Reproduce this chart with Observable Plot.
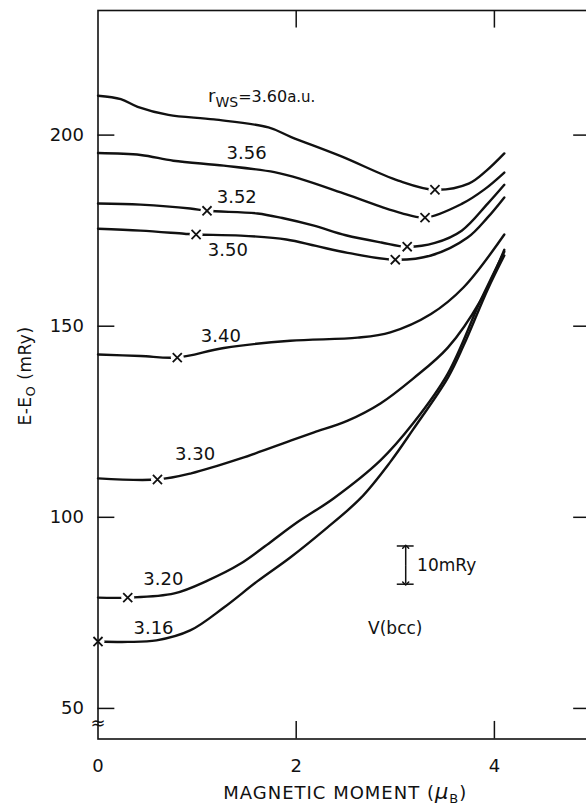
<!DOCTYPE html>
<html><head><meta charset="utf-8">
<script src="https://cdn.jsdelivr.net/npm/d3@7"></script>
<script src="https://cdn.jsdelivr.net/npm/@observablehq/plot@0.6"></script>
<style>
html,body{margin:0;padding:0;background:#fff;overflow:hidden;}
#chart svg{overflow:hidden;display:block;}
</style></head><body><div id="chart"></div>
<script>
// Wigner-Seitz radii (a.u.) of the curves
const radii = ["3.60","3.56","3.52","3.50","3.40","3.30","3.20","3.16"];

// magnetic moment (μB) and E-E0 (mRy) per curve
const m360 = [0, 0.23, 0.40, 0.71, 1.17, 1.72, 1.95, 2.45, 3.03, 3.40, 3.74, 3.92, 4.10];
const e360 = [210.3, 209.4, 207.4, 205.3, 204.1, 202.0, 199.5, 194.5, 188.1, 185.7, 187.3, 190.7, 195.2];
const m356 = [0, 0.43, 0.76, 1.27, 1.78, 2.05, 2.45, 2.86, 3.06, 3.30, 3.67, 3.90, 4.10];
const e356 = [195.3, 194.8, 193.3, 192.0, 190.3, 188.5, 185.0, 181.2, 179.6, 178.4, 182.0, 185.8, 190.2];
const m352 = [0, 0.43, 0.93, 1.10, 1.61, 1.86, 2.18, 2.50, 2.86, 3.12, 3.40, 3.67, 3.93, 4.10];
const e352 = [182.1, 181.8, 180.8, 180.2, 179.5, 178.3, 176.3, 173.8, 171.9, 170.8, 171.8, 175.0, 182.0, 187.0];
const m350 = [0, 0.43, 0.87, 0.99, 1.44, 1.90, 2.20, 2.52, 3.00, 3.36, 3.73, 3.93, 4.10];
const e350 = [175.5, 175.0, 174.2, 174.0, 173.7, 172.7, 171.0, 169.2, 167.4, 168.5, 173.2, 178.4, 183.7];
const m340 = [0, 0.43, 0.80, 1.27, 1.94, 2.62, 2.95, 3.36, 3.69, 4.10];
const e340 = [142.6, 142.2, 141.8, 144.3, 146.2, 147.0, 148.4, 153.2, 160.2, 174.0];
const m330 = [0, 0.60, 0.94, 1.44, 1.95, 2.18, 2.52, 2.85, 3.18, 3.53, 3.86, 4.10];
const e330 = [110.2, 109.9, 111.5, 115.4, 120.1, 122.2, 125.3, 129.8, 136.3, 144.4, 156.7, 170.0];
const m320 = [0, 0.30, 0.77, 1.11, 1.44, 1.74, 2.00, 2.38, 2.85, 3.18, 3.53, 3.86, 4.10];
const e320 = [79.0, 79.0, 80.1, 83.5, 87.9, 93.5, 98.5, 105.0, 114.9, 124.6, 137.6, 156.7, 169.5];
const m316 = [0, 0.30, 0.59, 0.93, 1.27, 1.61, 1.94, 2.28, 2.65, 2.95, 3.18, 3.53, 3.69, 3.93, 4.10];
const e316 = [67.5, 67.4, 67.8, 70.4, 76.4, 83.3, 89.5, 96.6, 105.0, 114.5, 123.0, 136.5, 145.0, 159.5, 168.5];

// calculated equilibrium / minimum points (×)
const markM = [3.40, 3.30, 1.10, 3.12, 0.99, 3.00, 0.80, 0.60, 0.30, 0];
const markE = [185.7, 178.4, 180.2, 170.8, 174.0, 167.4, 141.8, 109.9, 79.0, 67.5];

// curve label positions and texts
const labelText = ["3.56", "3.52", "3.50", "3.40", "3.30", "3.20", "3.16"];
const labelM = [1.50, 1.40, 1.31, 1.24, 0.98, 0.66, 0.56];
const labelE = [195.2, 183.7, 169.8, 147.3, 116.4, 83.7, 70.9];

const xTicks = [0, 2, 4];
const yTicks = [50, 100, 150, 200];

// build table
const series = [[m360,e360],[m356,e356],[m352,e352],[m350,e350],[m340,e340],[m330,e330],[m320,e320],[m316,e316]];
const rows = [];
series.forEach(([ms, es], i) => ms.forEach((m, j) => rows.push({r: radii[i], m, E: es[j]})));
const marks = markM.map((m, i) => ({m, E: markE[i]}));
const labels = labelText.map((t, i) => ({t, m: labelM[i], E: labelE[i]}));

const ink = "#111";
const font = "DejaVu Sans, sans-serif";
const yMin = 42.0, yMax = 232.6;

const chart = Plot.plot({
  width: 586, height: 805,
  marginLeft: 97.5, marginRight: -7, marginTop: 10, marginBottom: 66.5,
  style: {fontFamily: font, background: "white", color: ink},
  x: {domain: [0, 5], axis: null},
  y: {domain: [yMin, yMax], axis: null},
  marks: [
    Plot.line(rows, {x: "m", y: "E", z: "r", curve: "catmull-rom", stroke: ink, strokeWidth: 2.4}),
    Plot.dot(marks, {x: "m", y: "E", r: 6.5, fill: "white", stroke: null}),
    Plot.frame({stroke: ink, strokeWidth: 1.6}),
    Plot.dot(marks, {x: "m", y: "E", symbol: "times", r: 4.2, stroke: ink, strokeWidth: 1.8}),
    // inward ticks
    Plot.ruleY(yTicks, {x1: 0, x2: 0.17, stroke: ink, strokeWidth: 1.5}),
    Plot.ruleY(yTicks, {x1: 4.80, x2: 5, stroke: ink, strokeWidth: 1.5}),
    Plot.ruleX(xTicks.filter(d => d > 0), {y1: yMin, y2: yMin + 4.6, stroke: ink, strokeWidth: 1.5}),
    Plot.ruleX(xTicks.filter(d => d > 0), {y1: yMax - 4.6, y2: yMax, stroke: ink, strokeWidth: 1.5}),
    Plot.axisX({ticks: xTicks, tickSize: 0, tickPadding: 20, fontSize: 18, label: null, tickFormat: d => d}),
    Plot.axisY({ticks: yTicks, tickSize: 0, tickPadding: 14, fontSize: 18, label: null, tickFormat: d => d, letterSpacing: 1}),
    // curve labels
    Plot.text(labels, {x: "m", y: "E", text: "t", fontSize: 18, fill: ink, letterSpacing: 0.5}),
    Plot.text(["V(bcc)"], {x: 3.00, y: 70.9, text: d => d, fontSize: 17, fill: ink}),
    // 10 mRy scale bar
    Plot.ruleY([82.5, 92.5], {x1: 3.02, x2: 3.19, stroke: ink, strokeWidth: 1.5}),
    Plot.link([{a: 87.5, b: 92.3}, {a: 87.5, b: 82.7}], {x1: 3.105, x2: 3.105, y1: "a", y2: "b", stroke: ink, strokeWidth: 1.5, markerEnd: "arrow"}),
    Plot.text(["10mRy"], {x: 3.22, y: 87.5, text: d => d, textAnchor: "start", fontSize: 17, fill: ink}),
    // axis break sign
    Plot.text(["≈"], {x: 0, y: 46.2, text: d => d, fontSize: 18, fill: ink})
  ]
});
document.getElementById("chart").appendChild(chart);

const svg = d3.select(chart);
const sx = chart.scale("x"), sy = chart.scale("y");

// r_WS label
const t1 = svg.append("text").attr("x", sx.apply(1.115)).attr("y", sy.apply(208.5))
  .attr("text-anchor", "start").attr("font-family", font).attr("fill", ink).attr("font-size", 17);
t1.append("tspan").attr("font-size", 18).text("r");
t1.append("tspan").attr("dy", 5).attr("font-size", 14).text("WS");
t1.append("tspan").attr("dy", -5).attr("font-size", 16).text("=3.60");
t1.append("tspan").attr("font-size", 15).text("a.u.");

// x axis title
const xt = svg.append("text").attr("x", sx.apply(2.5)).attr("y", 799)
  .attr("text-anchor", "middle").attr("font-family", font).attr("fill", ink).attr("font-size", 18)
  .attr("letter-spacing", 1);
xt.append("tspan").text("MAGNETIC MOMENT (");
xt.append("tspan").attr("font-style", "italic").attr("font-size", 21).text("μ");
xt.append("tspan").attr("dy", 4).attr("font-size", 13).text("B");
xt.append("tspan").attr("dy", -4).text(")");

// y axis title
const yt = svg.append("text").attr("transform", "translate(31,376) rotate(-90)")
  .attr("text-anchor", "middle").attr("font-family", font).attr("fill", ink).attr("font-size", 17)
  .attr("letter-spacing", 0.5);
yt.append("tspan").text("E-E");
yt.append("tspan").attr("dy", 4).attr("font-size", 13).text("O");
yt.append("tspan").attr("dy", -4).text(" (mRy)");
</script>
</body></html>
